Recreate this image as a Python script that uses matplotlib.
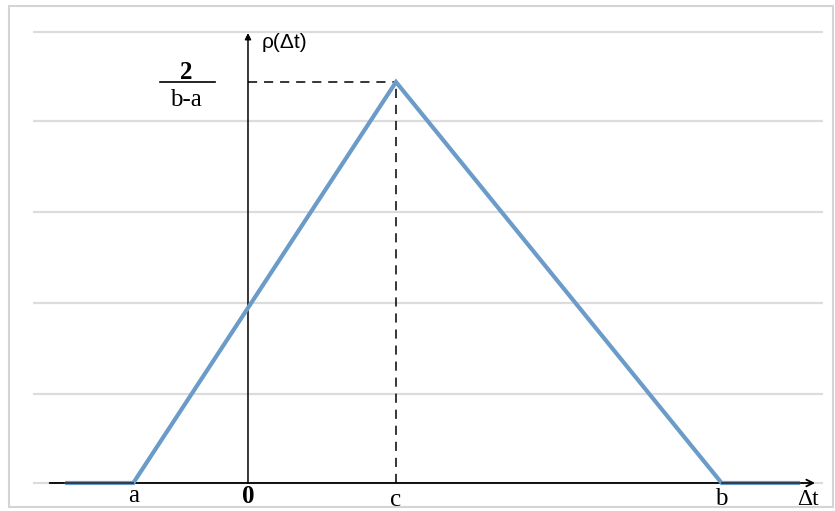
import matplotlib
matplotlib.use("Agg")
import matplotlib.pyplot as plt
from matplotlib.patches import Rectangle

# triangular density: support [a, b], mode c
a, c, b = -1.55, 2.0, 6.4
peak = 2.0 / (b - a)

pdf_x = [-2.47, a, c, b, 7.46]
pdf_y = [0.0, 0.0, peak, 0.0, 0.0]

tick_pos = [a, 0.0, c, b]
tick_labels = ["a", "0", "c", "b"]
tick_yoff = [-0.0080, -0.0086, -0.0105, -0.0103]

grid_levels = [0.0558, 0.1129, 0.1700, 0.2271, 0.2829, 0.0]

BLUE = "#6b9bc8"
GRID = "#dcdcdc"

fig = plt.figure(figsize=(8.35, 5.11), dpi=100)
fig.patch.set_facecolor("white")
ax = fig.add_axes([0, 0, 1, 1])
ax.set_axis_off()
ax.set_xlim(-3.351, 7.932)
ax.set_ylim(-0.01757, 0.3030)

# frame round the picture
fig.patches.append(Rectangle((9 / 835, 4 / 511), 824 / 835, 501 / 511,
                             transform=fig.transFigure, fill=False,
                             edgecolor="#d4d4d4", lw=1.5))

ax.hlines(grid_levels, -2.905, 7.77, colors=GRID, lw=1.6, zorder=1)

# axes with arrows
ax.annotate("", xy=(7.662, 0), xytext=(-2.68, 0),
            arrowprops=dict(arrowstyle="->", lw=1.3, color="black",
                            shrinkA=0, shrinkB=0, mutation_scale=12), zorder=3)
ax.annotate("", xy=(0, 0.2823), xytext=(0, 0),
            arrowprops=dict(arrowstyle="-|>", lw=1.1, color="black",
                            shrinkA=0, shrinkB=0, mutation_scale=9), zorder=3)

# guides to the mode
ax.plot([0, c], [peak, peak], color="black", lw=1.1, dashes=(6, 4.5), zorder=2)
ax.plot([c, c], [0, peak], color="black", lw=1.1, dashes=(6, 4.5), zorder=2)

ax.plot(pdf_x, pdf_y, color=BLUE, lw=3.0, solid_capstyle="butt",
        solid_joinstyle="miter", zorder=4)
# axis line shows through the flat parts
ax.plot([-2.47, a], [0, 0], color="#2b3440", lw=1.3, zorder=5)
ax.plot([b, 7.46], [0, 0], color="#2b3440", lw=1.3, zorder=5)

for x, lab, dy in zip(tick_pos, tick_labels, tick_yoff):
    ax.text(x, dy, lab, ha="center", va="center", fontsize=18,
            family="Liberation Serif",
            fontweight="bold" if lab == "0" else "normal")
ax.text(7.57, -0.0106, "Δt", ha="center", va="center", fontsize=17,
        family="Liberation Serif")

ax.text(0.189, 0.2765, "ρ(Δt)", ha="left", va="center", fontsize=15,
        family="Liberation Sans")

# value at the mode, written as a fraction
ax.text(-0.838, peak + 0.0060, "2", ha="center", va="center", fontsize=18,
        family="Liberation Serif", fontweight="bold")
ax.plot([-1.189, -0.446], [peak, peak], color="black", lw=1.2)
ax.text(-0.838, peak - 0.0112, "b-a", ha="center", va="center", fontsize=18,
        family="Liberation Serif")

fig.savefig("out.png", dpi=100)
